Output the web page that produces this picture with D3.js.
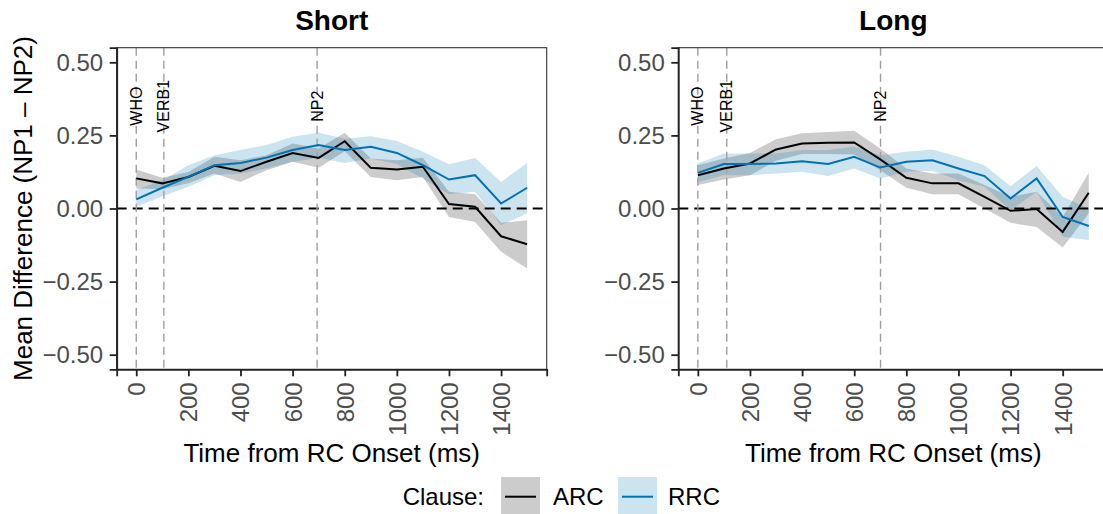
<!DOCTYPE html>
<html>
<head>
<meta charset="utf-8">
<script src="https://cdn.jsdelivr.net/npm/d3@7"></script>
<style>
  body { margin: 0; background: #fff; }
  svg { font-family: "Liberation Sans", Arial, sans-serif; }
</style>
</head>
<body>
<div id="chart"></div>
<script>
// time points (ms from RC onset)
const times = [0, 100, 200, 300, 400, 500, 600, 700, 800, 900, 1000, 1100, 1200, 1300, 1400, 1500];

const panels = ['Short', 'Long'];

// Short condition
const shortArcMean  = [0.103, 0.086, 0.108, 0.146, 0.128, 0.160, 0.190, 0.173, 0.230, 0.139, 0.133, 0.143, 0.015, 0.006, -0.095, -0.122];
const shortArcHigh  = [0.133, 0.105, 0.125, 0.177, 0.165, 0.182, 0.222, 0.205, 0.259, 0.171, 0.165, 0.174, 0.057, 0.049, -0.049, -0.040];
const shortArcLow   = [0.068, 0.066, 0.086, 0.120, 0.091, 0.131, 0.160, 0.139, 0.196, 0.108, 0.097, 0.108, -0.029, -0.046, -0.148, -0.205];
const shortRrcMean  = [0.031, 0.071, 0.108, 0.148, 0.156, 0.174, 0.200, 0.217, 0.200, 0.211, 0.190, 0.148, 0.099, 0.114, 0.017, 0.071];
const shortRrcHigh  = [0.063, 0.097, 0.148, 0.182, 0.200, 0.217, 0.245, 0.259, 0.239, 0.247, 0.231, 0.194, 0.151, 0.173, 0.091, 0.156];
const shortRrcLow   = [0.006, 0.042, 0.074, 0.114, 0.120, 0.137, 0.160, 0.174, 0.156, 0.171, 0.152, 0.103, 0.049, 0.057, -0.057, -0.017];

// Long condition
const longArcMean   = [0.114, 0.137, 0.154, 0.202, 0.222, 0.225, 0.226, 0.168, 0.105, 0.086, 0.086, 0.040, -0.008, -0.002, -0.080, 0.054];
const longArcHigh   = [0.148, 0.171, 0.190, 0.237, 0.257, 0.262, 0.266, 0.205, 0.137, 0.120, 0.120, 0.080, 0.040, 0.057, -0.029, 0.122];
const longArcLow    = [0.080, 0.099, 0.114, 0.163, 0.186, 0.186, 0.185, 0.131, 0.071, 0.049, 0.049, 0.000, -0.049, -0.063, -0.133, -0.017];
const longRrcMean   = [0.122, 0.152, 0.152, 0.154, 0.162, 0.152, 0.177, 0.140, 0.160, 0.165, 0.137, 0.111, 0.034, 0.103, -0.029, -0.060];
const longRrcHigh   = [0.154, 0.188, 0.188, 0.188, 0.200, 0.200, 0.211, 0.182, 0.194, 0.202, 0.177, 0.148, 0.076, 0.145, 0.040, 0.000];
const longRrcLow    = [0.091, 0.114, 0.114, 0.120, 0.126, 0.111, 0.137, 0.103, 0.126, 0.129, 0.097, 0.074, -0.006, 0.057, -0.097, -0.108];

// word onsets per panel
const markerLabels = ['WHO', 'VERB1', 'NP2'];
const shortMarkers = [0, 106, 694];
const longMarkers  = [0, 111, 701];

const xTicks = [0, 200, 400, 600, 800, 1000, 1200, 1400];
const yTicks = [-0.50, -0.25, 0.00, 0.25, 0.50];

const clauses = ['ARC', 'RRC'];
const clauseColors = ['#000000', '#0072B2'];

const W = 1103, H = 514;
const panelLefts = [116.7, 678.3];
const panelW = 430;
const plotTop = 47.7, plotBottom = 369.3;

const svg = d3.select('#chart').append('svg')
    .attr('width', W)
    .attr('height', H);

const y = d3.scaleLinear().domain([-0.55, 0.55]).range([plotBottom, plotTop]);

const panelData = [
    { name: 'Short', markers: shortMarkers,
      series: [
        { mean: shortArcMean, hi: shortArcHigh, lo: shortArcLow },
        { mean: shortRrcMean, hi: shortRrcHigh, lo: shortRrcLow }
      ] },
    { name: 'Long', markers: longMarkers,
      series: [
        { mean: longArcMean, hi: longArcHigh, lo: longArcLow },
        { mean: longRrcMean, hi: longRrcHigh, lo: longRrcLow }
      ] }
];

panelData.forEach((p, pi) => {
    const x0 = panelLefts[pi];
    const x = d3.scaleLinear().domain([-75, 1575]).range([x0, x0 + panelW]);
    const g = svg.append('g');

    // strip title
    g.append('text')
        .attr('x', x0 + panelW / 2)
        .attr('y', 30)
        .attr('text-anchor', 'middle')
        .style('font-size', '28px')
        .style('font-weight', 'bold')
        .text(panels[pi]);

    // ribbons
    p.series.forEach((s, si) => {
        const area = d3.area()
            .x((d, i) => x(times[i]))
            .y0((d, i) => y(s.lo[i]))
            .y1((d, i) => y(s.hi[i]));
        g.append('path')
            .datum(times)
            .attr('d', area)
            .attr('fill', clauseColors[si])
            .attr('fill-opacity', 0.2);
    });

    // zero line
    g.append('line')
        .attr('x1', x0).attr('x2', x0 + panelW)
        .attr('y1', y(0)).attr('y2', y(0))
        .attr('stroke', '#000')
        .attr('stroke-width', 2.1)
        .attr('stroke-dasharray', '10,6');

    // word onset lines
    p.markers.forEach((m, mi) => {
        g.append('line')
            .attr('x1', x(m)).attr('x2', x(m))
            .attr('y1', plotTop).attr('y2', plotBottom)
            .attr('stroke', '#a0a0a0')
            .attr('stroke-width', 1.4)
            .attr('stroke-dasharray', '8,5');
        g.append('text')
            .attr('transform', `translate(${x(m)},${y(0.35)}) rotate(-90)`)
            .attr('text-anchor', 'middle')
            .attr('dominant-baseline', 'central')
            .style('font-size', '16px')
            .text(markerLabels[mi]);
    });

    // mean lines
    p.series.forEach((s, si) => {
        const line = d3.line()
            .x((d, i) => x(times[i]))
            .y((d, i) => y(s.mean[i]));
        g.append('path')
            .datum(times)
            .attr('d', line)
            .attr('fill', 'none')
            .attr('stroke', clauseColors[si])
            .attr('stroke-width', 2);
    });

    // panel border
    g.append('rect')
        .attr('x', x0).attr('y', plotTop)
        .attr('width', panelW).attr('height', plotBottom - plotTop)
        .attr('fill', 'none')
        .attr('stroke', '#333')
        .attr('stroke-width', 1.1);

    // y axis
    const yAxis = g.append('g')
        .attr('transform', `translate(${x0},0)`)
        .call(d3.axisLeft(y).tickValues(yTicks).tickFormat(d3.format('.2f')).tickSize(7).tickPadding(6.5));
    // x axis
    const xAxis = g.append('g')
        .attr('transform', `translate(0,${plotBottom})`)
        .call(d3.axisBottom(x).tickValues(xTicks).tickFormat(d3.format('d')).tickSize(7).tickPadding(6));

    [yAxis, xAxis].forEach(ax => {
        ax.select('.domain').attr('stroke', '#222').attr('stroke-width', 1.8);
        ax.selectAll('.tick line').attr('stroke', '#222').attr('stroke-width', 1.8);
        ax.selectAll('.tick text')
            .attr('fill', '#4d4d4d')
            .style('font-size', '24px')
            .style('font-family', '"Liberation Sans", Arial, sans-serif');
    });
    yAxis.selectAll('.tick text').text(d => d < 0 ? '\u2212' + d3.format('.2f')(-d) : d3.format('.2f')(d));
    xAxis.selectAll('.tick text')
        .attr('transform', 'rotate(-90)')
        .attr('x', -13)
        .attr('y', 0)
        .attr('dy', '0.35em')
        .attr('text-anchor', 'end');

    // x title
    g.append('text')
        .attr('x', x0 + panelW / 2)
        .attr('y', 462)
        .attr('text-anchor', 'middle')
        .style('font-size', '26px')
        .text('Time from RC Onset (ms)');
});

// y title
svg.append('text')
    .attr('transform', `translate(32,${(plotTop + plotBottom) / 2}) rotate(-90)`)
    .attr('text-anchor', 'middle')
    .style('font-size', '26px')
    .text('Mean Difference (NP1 \u2013 NP2)');

// legend
const leg = svg.append('g');
leg.append('text')
    .attr('x', 484).attr('y', 505)
    .attr('text-anchor', 'end')
    .style('font-size', '24px')
    .text('Clause:');
const keyX = [501, 618];
const labX = [553, 668];
clauses.forEach((c, i) => {
    leg.append('rect')
        .attr('x', keyX[i]).attr('y', 477)
        .attr('width', 39).attr('height', 40)
        .attr('fill', clauseColors[i])
        .attr('fill-opacity', 0.2);
    leg.append('line')
        .attr('x1', keyX[i] + 4).attr('x2', keyX[i] + 35)
        .attr('y1', 496.7).attr('y2', 496.7)
        .attr('stroke', clauseColors[i])
        .attr('stroke-width', 2);
    leg.append('text')
        .attr('x', labX[i]).attr('y', 505)
        .style('font-size', '24px')
        .text(c);
});
</script>
</body>
</html>
